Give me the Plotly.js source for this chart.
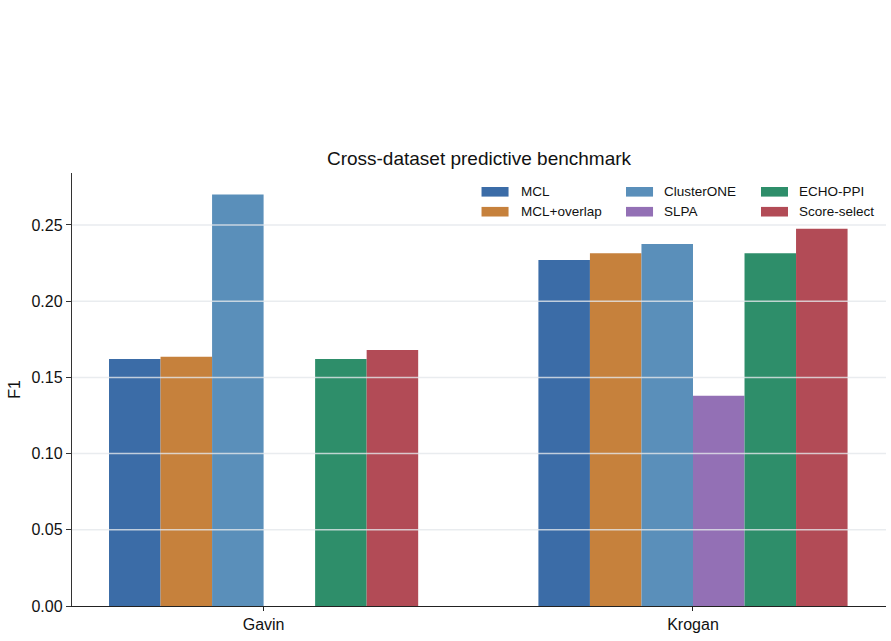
<!DOCTYPE html>
<html>
<head>
<meta charset="utf-8">
<script src="https://cdn.plot.ly/plotly-3.0.1.min.js"></script>
<style>
  html, body { margin: 0; padding: 0; background: #ffffff; }
  #chart { width: 891px; height: 641px; }
</style>
</head>
<body>
<div id="chart"></div>
<script>
// Datasets on the x axis
const datasets = ["Gavin", "Krogan"];

// F1 score per method, one value per dataset (Gavin, Krogan)
const methods = ["MCL", "MCL+overlap", "ClusterONE", "SLPA", "ECHO-PPI", "Score-select"];
const mclF1 = [0.162, 0.227];
const mclOverlapF1 = [0.1635, 0.2315];
const clusterOneF1 = [0.270, 0.2375];
const slpaF1 = [0, 0.138];
const echoPpiF1 = [0.162, 0.2315];
const scoreSelectF1 = [0.168, 0.2475];

const methodColors = ["#3b6ca7", "#c6813c", "#5a8fba", "#9370b5", "#2e8e6a", "#b24b56"];

// Y ticks
const yTicks = [0, 0.05, 0.10, 0.15, 0.20, 0.25];
const yTickText = ["0.00", "0.05", "0.10", "0.15", "0.20", "0.25"];

const seriesValues = [mclF1, mclOverlapF1, clusterOneF1, slpaF1, echoPpiF1, scoreSelectF1];

const traces = methods.map((name, i) => ({
  type: "bar",
  name: name,
  x: datasets,
  y: seriesValues[i],
  marker: { color: methodColors[i], line: { width: 0 } },
  showlegend: false,
  hoverinfo: "x+y+name"
}));

const FONT = "Liberation Sans, Arial, Helvetica, sans-serif";
const TEXT = "#111111";

// Grid lines are drawn over the bars, semi-transparent
const shapes = yTicks.filter(v => v > 0).map(v => ({
  type: "line", layer: "above",
  xref: "paper", x0: 0, x1: 1,
  yref: "y", y0: v, y1: v,
  line: { color: "rgba(228,231,235,0.8)", width: 1.5 }
}));

// Three-column legend: column-major order of methods
const legendCols = [0.5031, 0.6806, 0.8464];   // swatch left, paper x
const legendTextX = [0.5504, 0.7260, 0.8919];  // text left, paper x
const legendRowsY = [0.9566, 0.9106];          // row centre, paper y
const swatchW = 0.0332, swatchH = 0.0222;
const annotations = [];
methods.forEach((name, i) => {
  const col = Math.floor(i / 2), row = i % 2;
  shapes.push({
    type: "rect", layer: "above",
    xref: "paper", yref: "paper",
    x0: legendCols[col], x1: legendCols[col] + swatchW,
    y0: legendRowsY[row] - swatchH / 2, y1: legendRowsY[row] + swatchH / 2,
    fillcolor: methodColors[i], line: { width: 0 }
  });
  annotations.push({
    xref: "paper", yref: "paper",
    x: legendTextX[col], y: legendRowsY[row],
    xanchor: "left", yanchor: "middle",
    xshift: -1,
    text: name, showarrow: false,
    font: { family: FONT, size: 13.5, color: TEXT }
  });
});

const layout = {
  width: 891, height: 641,
  margin: { l: 72, r: 5, t: 173, b: 35, pad: 0 },
  paper_bgcolor: "#ffffff",
  plot_bgcolor: "#ffffff",
  font: { family: FONT, size: 16, color: TEXT },
  title: {
    text: "Cross-dataset predictive benchmark",
    font: { family: FONT, size: 19, color: TEXT },
    x: 0.5, xref: "paper", xanchor: "center",
    y: 1 - 158 / 641, yref: "container", yanchor: "middle"
  },
  barmode: "group",
  bargap: 0.28,
  bargroupgap: 0,
  xaxis: {
    type: "category",
    range: [-0.4462, 1.4495],
    showgrid: false,
    zeroline: false,
    showline: true, linecolor: "#222222", linewidth: 1.2,
    ticks: "outside", ticklen: 4, tickwidth: 1, tickcolor: "#222222",
    tickfont: { family: FONT, size: 16, color: TEXT }
  },
  yaxis: {
    range: [0, 0.2841],
    tickvals: yTicks, ticktext: yTickText,
    showgrid: false,
    zeroline: false,
    showline: true, linecolor: "#333333", linewidth: 1.2,
    ticks: "outside", ticklen: 5, tickwidth: 1, tickcolor: "#333333",
    tickfont: { family: FONT, size: 16, color: TEXT },
    title: { text: "F1", standoff: 6, font: { family: FONT, size: 16, color: TEXT } }
  },
  shapes: shapes,
  annotations: annotations,
  showlegend: false
};

Plotly.newPlot("chart", traces, layout, { displayModeBar: false, staticPlot: true });
</script>
</body>
</html>
